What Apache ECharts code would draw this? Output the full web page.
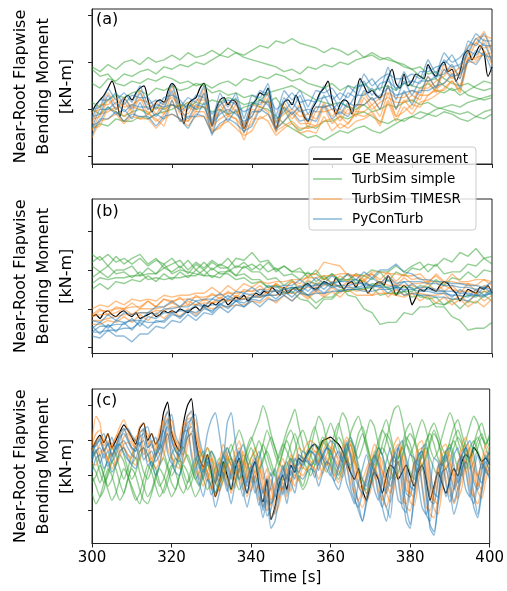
<!DOCTYPE html>
<html>
<head>
<meta charset="utf-8">
<script src="https://cdn.jsdelivr.net/npm/echarts@6/dist/echarts.min.js"></script>
<style>
html,body{margin:0;padding:0;background:#fff;}
#chart{width:507px;height:591px;}
</style>
</head>
<body>
<div id="chart"></div>
<script>
// ---------- time grids ----------
const timeFine = [300,301,302,303,304,305,306,307,308,309,
310,311,312,313,314,315,316,317,318,319,
320,321,322,323,324,325,326,327,328,329,
330,331,332,333,334,335,336,337,338,339,
340,341,342,343,344,345,346,347,348,349,
350,351,352,353,354,355,356,357,358,359,
360,361,362,363,364,365,366,367,368,369,
370,371,372,373,374,375,376,377,378,379,
380,381,382,383,384,385,386,387,388,389,
390,391,392,393,394,395,396,397,398,399,
400];
const timeCoarse = [300,302,304,306,308,310,312,314,316,318,
320,322,324,326,328,330,332,334,336,338,
340,342,344,346,348,350,352,354,356,358,
360,362,364,366,368,370,372,374,376,378,
380,382,384,386,388,390,392,394,396,398,
400];

const yTicks = [0,20,40,60];
const panelLabels = ['(a)','(b)','(c)'];
const legendNames = ['GE Measurement','TurbSim simple','TurbSim TIMESR','PyConTurb'];

// ---------- panel (a) ----------
const aMeasured = [19,22,24,26,29,32,27,17,24,26,
24,27,29,30,24,19,23,24,23,28,
31,29,22,14,22,24,25,29,31,24,
13,20,24,25,22,24,23,18,12,16,
22,24,27,26,29,20,12,18,23,24,
22,26,22,17,15,20,23,27,29,32,
24,18,22,24,23,18,26,33,30,27,
28,26,25,29,33,37,31,29,35,30,
32,35,34,33,39,36,34,38,40,36,
37,32,36,43,45,41,44,47,44,34,
38];
const aSimple1 = [38,36,39,37,40,41,39,42,40,41, 43,41,44,42,43,45,43,46,44,43, 45,47,46,49,48,50,48,47,46,44, 46,45,43,45,42,44,42,41,40,38, 37,38,35,36,33,31,30,31,29,28, 29];
const aSimple2 = [31,29,33,32,35,34,36,37,35,38, 37,39,38,40,39,41,43,42,44,42, 41,40,39,38,36,37,35,38,37,39, 38,40,39,41,42,43,41,42,40,39, 37,34,32,33,30,28,29,26,25,24, 25];
const aSimple3 = [37,34,35,31,30,32,31,33,32,34, 33,31,32,30,31,29,31,32,30,33, 32,34,33,35,34,32,33,31,30,29, 31,28,30,29,31,28,29,30,28,31, 30,29,31,28,27,29,26,28,30,32, 31];
const aSimple4 = [23,21,24,26,25,27,28,26,29,28, 30,28,29,31,30,27,28,26,27,25, 26,24,27,28,29,30,28,26,24,23, 22,23,21,20,22,19,20,22,21,23, 24,22,23,21,20,19,18,19,17,19, 20];
const aSimple5 = [12,14,13,16,15,15,17,16,18,19, 20,22,21,23,22,24,23,25,24,22, 23,21,20,17,14,12,10,8,9,7, 9,11,10,12,13,11,10,12,14,16, 17,19,18,20,21,22,21,23,24,25, 26];
const aSimple6 = [20,18,21,19,17,19,20,18,21,20, 22,21,23,20,21,19,20,18,19,21, 22,24,23,25,20,14,11,13,12,15, 15,17,16,18,19,17,15,14,16,15, 17,16,18,17,19,18,16,15,17,16, 18];
const aTimesr1 = [12,13,20,19,15,19,16,18,16,13, 24,15,15,19,19,11,12,17,16,7, 16,16,18,11,13,15,12,12,13,15, 16,12,14,18,17,19,14,24,17,19, 22,21,26,28,28,32,28,41,42,43, 44];
const aTimesr2 = [14,22,22,25,21,22,24,23,18,23, 25,22,18,24,24,15,19,23,19,14, 17,23,23,15,18,20,17,18,16,23, 17,20,18,22,22,25,20,30,20,27, 23,29,29,32,34,38,33,47,48,53, 45];
const aTimesr3 = [11,18,19,21,17,21,20,19,15,18, 22,20,15,21,21,13,16,18,16,12, 14,21,19,12,15,18,14,14,13,21, 14,17,14,19,19,22,17,27,17,24, 20,26,26,29,31,34,30,42,41,50, 40];
const aTimesr4 = [16,17,24,20,23,19,25,18,21,18, 27,18,21,19,27,11,22,17,22,10, 20,19,25,10,21,16,20,12,19,19, 20,15,20,17,25,20,23,25,23,23, 26,24,32,27,37,33,36,41,48,46, 47];
const aTimesr5 = [8,15,16,18,14,17,16,16,12,16, 18,16,13,17,17,10,13,15,12,9, 11,17,15,9,12,14,10,11,10,17, 11,14,12,15,16,18,13,23,15,21, 18,23,24,26,29,32,27,40,40,45, 39];
const aTimesr6 = [19,20,27,22,25,21,28,20,23,20, 30,20,23,21,29,13,24,19,24,12, 22,21,27,12,23,18,22,14,21,21, 22,17,22,19,27,22,25,27,25,25, 28,26,34,29,39,35,38,43,50,51, 50];
const aPycon1 = [13,15,21,18,20,16,23,16,18,16, 24,15,17,17,23,9,20,15,20,10, 19,19,24,11,21,18,21,15,21,21, 22,18,23,21,28,24,26,29,26,27, 28,27,34,29,37,34,35,40,45,43, 42];
const aPycon2 = [12,20,20,23,19,22,21,21,17,21, 22,20,16,22,21,14,18,20,18,15, 17,24,22,16,19,23,19,20,19,26, 20,23,21,26,26,29,24,34,24,32, 26,32,32,34,35,39,33,45,43,48, 40];
const aPycon3 = [17,18,26,20,25,20,27,20,22,21, 28,19,22,20,27,13,24,18,25,13, 23,22,29,14,25,20,26,18,24,25, 26,20,27,25,32,26,31,32,29,31, 32,31,38,33,41,38,39,44,50,47, 47];
const aPycon4 = [16,24,24,27,22,26,25,25,20,25, 26,24,20,26,25,18,22,24,22,19, 21,28,26,20,23,27,23,24,23,30, 24,27,25,30,30,33,28,38,28,36, 30,36,36,38,39,43,37,49,47,52, 44];
const aPycon5 = [20,21,29,24,27,23,30,22,24,22, 31,21,25,23,30,15,27,21,27,16, 26,25,31,17,28,24,28,21,28,27, 29,24,30,27,35,30,33,35,33,33, 35,33,41,35,44,40,42,46,52,49, 49];
const aPycon6 = [9,16,16,19,15,18,17,17,13,17, 18,16,12,18,17,10,14,16,14,11, 13,20,18,12,15,19,15,16,15,22, 16,19,17,22,22,25,20,30,20,28, 22,28,28,30,31,35,29,41,39,44, 36];

// ---------- panel (b) ----------
const bMeasured = [16,17,15,18,19,17,16,18,19,17,
16,18,15,16,17,18,16,17,19,18,
19,18,20,19,18,20,21,19,22,21,
23,22,24,25,22,24,26,25,27,24,
26,28,27,29,28,31,29,27,31,28,
30,31,29,32,33,31,30,32,34,33,
32,36,33,30,33,34,31,35,32,28,
31,33,34,32,37,33,27,30,32,30,
22,26,30,29,31,30,29,32,34,33,
30,28,24,27,30,29,28,31,30,32,
28];
const bSimple1 = [48,45,48,44,46,43,46,42,45,43, 46,41,45,40,44,40,43,41,46,45, 49,44,45,40,42,39,41,36,40,35, 38,35,38,33,37,35,39,34,39,37, 41,40,43,42,46,44,49,47,51,46, 47];
const bSimple2 = [44,47,42,47,43,46,48,43,46,41, 43,45,40,44,41,45,42,46,41,44, 40,43,39,41,37,38,35,39,34,37, 33,35,35,38,37,40,39,39,42,39, 42,44,39,43,38,39,39,43,42,46, 43];
const bSimple3 = [36,39,36,40,40,42,37,41,38,43, 38,40,39,38,37,37,36,40,37,42, 39,39,35,36,32,35,29,27,23,26, 26,30,29,31,30,33,32,31,27,29, 26,27,25,26,22,24,20,24,23,27, 24];
const bSimple4 = [30,33,30,34,33,35,34,37,34,38, 35,39,36,40,37,41,38,38,35,36, 33,34,31,32,30,31,30,34,33,33, 32,32,27,26,20,18,12,13,13,18, 17,21,21,23,22,25,25,27,26,29, 27];
const bSimple5 = [42,39,42,38,39,36,39,35,36,35, 36,36,37,37,40,36,39,39,42,41, 43,40,44,39,42,39,39,38,38,35, 38,34,35,35,34,31,34,30,31,31, 31,26,26,21,21,16,14,9,10,10, 13];
const bSimple6 = [33,36,35,36,36,37,37,38,38,41, 39,42,38,43,40,44,41,41,37,38, 35,35,31,32,28,29,25,24,20,25, 25,29,29,30,30,31,27,28,28,29, 29,32,31,35,32,36,35,39,36,40, 39];
const bTimesr1 = [20,22,21,24,22,25,24,25,24,27, 26,27,27,28,28,31,28,32,29,33, 31,34,33,34,34,35,35,36,36,37, 37,38,38,37,37,38,35,39,34,38, 35,36,33,38,34,34,33,33,32,35, 32];
const bTimesr2 = [16,17,17,18,20,17,20,20,20,21, 23,21,24,22,25,23,26,24,27,25, 28,26,29,29,29,30,30,31,31,32, 33,31,34,32,35,31,34,32,32,32, 32,30,33,29,32,30,29,29,28,29, 29];
const bTimesr3 = [12,12,14,13,16,13,17,14,18,15, 19,16,20,17,21,20,21,21,22,22, 24,23,26,23,27,24,28,25,29,26, 29,26,30,27,27,27,28,28,27,26, 28,24,27,23,26,22,25,21,24,21, 25];
const bTimesr4 = [16,19,19,20,20,23,20,24,21,25, 23,26,22,27,24,28,25,29,26,30, 29,30,30,33,30,34,33,37,38,44, 43,42,37,37,34,38,33,37,32,36, 33,33,34,34,29,32,28,33,29,32, 30];
const bTimesr5 = [14,14,15,16,17,17,18,18,19,19, 21,21,22,22,23,23,24,24,25,25, 26,26,27,27,28,28,29,26,30,27, 31,28,32,29,30,27,31,26,30,27, 28,28,27,27,28,24,27,23,28,24, 27];
const bTimesr6 = [17,20,17,21,20,21,21,24,21,25, 24,25,25,26,26,27,27,28,28,29, 29,32,28,33,30,34,31,35,32,36, 33,37,34,38,35,39,39,38,38,37, 37,38,34,37,33,38,34,34,35,35, 34];
const bPycon1 = [14,13,17,14,18,17,18,18,21,21, 24,21,25,24,25,25,28,25,29,28, 31,28,32,31,32,32,35,32,36,33, 37,34,38,35,39,36,40,40,43,39, 38,35,35,34,34,33,33,32,32,31, 34];
const bPycon2 = [8,11,11,12,12,15,11,16,15,18, 18,19,19,22,21,22,22,25,24,25, 26,27,27,30,27,31,28,32,29,33, 31,32,32,33,33,32,32,35,31,34, 30,31,31,30,29,29,28,28,27,31, 28];
const bPycon3 = [6,5,9,6,6,3,7,7,11,10, 14,13,17,14,18,17,21,18,22,21, 24,21,25,24,27,24,28,27,28,28, 29,29,30,30,29,29,30,30,31,27, 28,27,27,26,26,25,25,24,27,27, 28];
const bPycon4 = [10,13,10,14,13,14,14,18,17,20, 20,21,21,24,21,25,24,27,24,28, 27,30,29,29,30,31,31,32,32,33, 33,34,34,35,32,36,33,37,33,34, 34,34,33,33,32,32,31,31,30,31, 30];
const bPycon5 = [8,8,9,9,10,10,13,10,14,13, 17,16,19,16,20,19,22,21,24,21, 25,24,28,25,29,26,30,27,31,28, 32,29,30,30,31,31,32,28,31,30, 30,29,29,28,28,27,27,26,30,27, 30];
const bPycon6 = [11,7,12,8,13,9,14,13,13,14, 18,15,19,18,21,18,23,20,24,23, 26,26,27,27,31,28,32,29,33,30, 34,31,31,31,32,32,31,31,32,29, 33,30,30,29,29,26,30,27,27,26, 29];

// ---------- panel (c) ----------
const cMeasured = [35,40,43,39,44,36,40,45,49,46,
42,38,47,50,40,44,38,42,56,62,
45,38,34,50,60,64,42,30,25,32,
22,8,15,28,20,12,24,30,18,10,
22,28,14,5,18,-5,2,15,20,12,
26,22,30,28,32,36,38,35,40,41,
42,40,38,34,28,22,18,24,12,6,
15,22,18,10,20,26,24,18,22,26,
20,14,22,26,18,6,14,22,16,10,
18,24,20,28,32,30,36,33,28,30,
26];
const cSimple1 = [20,14,8,12,22,28,24,16,10,18, 26,30,22,14,8,12,20,26,30,24, 16,12,20,28,32,26,18,14,22,30, 34,28,20,24,32,38,30,22,26,36, 42,36,30,38,46,40,32,26,34,42, 46,40,30,24,32,42,48,40,30,26, 34,44,50,42,32,26,34,44,48,40, 30,26,36,46,52,44,34,30,38,46, 50,42,34,30,38,46,50,44,36,32, 40,48,52,44,36,30,38,46,50,42, 36];
const cSimple2 = [30,34,28,20,14,18,26,32,28,20, 14,8,4,12,22,28,24,16,10,16, 24,30,26,18,12,16,24,30,34,28, 20,16,24,32,36,30,22,18,26,34, 40,46,52,60,54,44,36,30,38,46, 52,58,48,38,30,36,46,54,50,40, 32,38,48,56,52,42,34,30,36,44, 52,48,38,32,40,50,58,60,52,40, 32,38,46,52,46,36,30,34,42,50, 56,50,40,34,40,48,54,50,42,38, 44];
const cSimple3 = [10,4,8,16,24,20,12,6,10,18, 24,20,12,6,4,10,18,24,20,14, 8,12,20,26,22,14,8,12,20,26, 22,16,12,18,26,30,24,18,22,30, 36,30,24,28,36,42,36,28,24,30, 38,44,38,30,24,20,26,34,40,36, 28,22,18,24,32,38,30,22,14,12, 20,30,36,32,24,18,22,30,36,30, 22,18,24,32,36,30,24,20,26,34, 38,32,24,20,28,36,40,34,28,24, 30];
const cSimple4 = [26,22,16,22,30,36,32,24,18,24, 32,36,30,22,18,24,32,38,34,26, 20,24,32,36,30,24,18,22,30,36, 30,22,16,20,28,34,40,46,40,32, 26,22,30,38,32,24,20,26,34,40, 34,26,20,14,22,32,38,34,26,22, 28,36,42,38,30,24,30,38,44,38, 30,24,30,38,44,40,32,26,32,40, 44,40,32,26,30,38,44,40,32,28, 34,42,46,40,32,28,34,40,44,38, 42];
const cSimple5 = [16,20,26,20,12,6,10,18,24,20, 12,6,10,18,26,22,14,8,12,20, 26,22,14,10,16,24,30,26,18,12, 16,24,30,26,18,12,16,24,32,28, 20,16,22,30,34,28,20,14,18,26, 30,24,18,12,16,24,30,36,42,38, 30,24,20,26,34,40,36,26,18,10, 14,22,30,36,32,24,18,22,30,38, 34,26,20,24,32,40,46,40,30,24, 28,36,42,38,30,24,28,36,42,36, 30];
const cSimple6 = [36,30,22,16,20,28,34,38,32,24, 18,22,30,36,32,26,20,14,18,26, 32,36,30,22,16,20,28,34,30,22, 14,10,16,24,30,26,18,12,16,24, 30,34,40,34,26,20,24,32,38,34, 28,34,42,46,40,32,26,30,38,44, 50,44,36,30,36,44,50,54,46,36, 28,32,40,46,42,34,28,30,36,42, 38,30,26,32,40,44,38,30,26,30, 36,40,34,28,24,30,38,42,36,30, 34];
const cTimesr1 = [34,40,42,37,40,35,38,44,47,42, 38,36,45,46,38,40,34,38,48,53, 42,36,34,44,52,53,40,30,24,32, 28,18,24,34,28,20,30,36,26,18, 26,32,22,12,20,6,10,20,26,18, 28,24,32,30,34,36,34,28,34,38, 36,30,26,32,40,34,22,16,12,18, 26,34,30,18,12,20,34,38,26,12, 10,22,34,36,22,8,6,18,32,34, 24,14,20,34,38,30,18,14,24,34, 30];
const cTimesr2 = [27,26,33,36,29,33,26,31,38,39, 35,30,29,37,40,30,33,27,31,41, 46,35,29,27,37,45,46,33,23,17, 25,21,11,17,27,21,13,23,29,19, 11,19,25,15,5,13,-2,3,13,19, 11,21,17,25,23,27,29,27,21,27, 31,29,23,19,25,33,27,15,9,5, 11,19,27,23,11,5,13,27,31,19, 5,3,15,27,29,15,1,-2,11,25, 27,17,7,13,27,31,23,11,7,17, 27];
const cTimesr3 = [37,40,31,35,28,36,42,45,36,32, 30,42,44,32,35,28,35,46,52,36, 30,28,41,50,48,34,24,18,26,22, 12,18,28,22,14,24,30,20,12,20, 26,16,6,14,0,4,14,20,12,22, 18,26,24,28,30,28,22,28,32,30, 24,20,26,34,28,16,10,6,12,20, 28,24,12,6,14,28,32,20,6,4, 16,28,30,16,2,0,12,26,28,18, 8,14,28,32,24,12,8,18,28,24, 22];
const cTimesr4 = [38,44,46,40,44,38,42,48,52,46, 42,40,48,50,42,44,38,42,52,56, 46,40,38,48,54,56,44,36,30,36, 32,24,28,38,32,26,34,40,30,24, 30,36,26,18,24,12,16,24,30,22, 32,28,36,34,38,40,38,32,38,42, 40,34,30,36,42,38,28,22,18,24, 30,38,34,22,18,26,38,42,30,18, 16,26,38,40,26,14,12,22,36,38, 28,20,24,38,42,34,24,20,28,38, 34];
const cTimesr5 = [32,33,38,40,34,38,32,36,42,44, 40,36,34,42,44,36,38,32,36,46, 52,40,34,32,42,50,52,38,28,22, 30,26,16,22,32,26,18,28,34,24, 16,24,30,20,10,18,4,8,18,24, 16,26,22,30,28,32,34,32,26,32, 36,34,28,24,30,38,32,20,14,10, 16,24,32,28,16,10,18,32,36,24, 10,8,20,32,34,20,6,4,16,30, 32,22,12,18,32,36,28,16,12,22, 32];
const cTimesr6 = [40,54,50,34,30,24,28,34,36,32, 28,26,34,36,28,30,24,28,38,44, 32,26,24,34,42,44,30,20,14,22, 18,8,14,24,18,10,20,26,16,8, 16,22,12,2,10,-4,0,10,16,8, 18,14,22,20,24,26,24,18,24,28, 26,20,16,22,30,24,12,6,2,8, 16,24,20,8,2,10,24,28,16,2, 0,12,24,26,12,-2,-4,8,22,24, 14,4,10,24,28,20,8,4,14,24, 20];
const cPycon1 = [32,38,40,34,38,32,36,42,44,40, 36,34,42,44,36,38,32,36,46,52, 40,34,32,42,50,52,38,28,22,30, 26,16,22,32,26,18,28,34,24,16, 24,30,20,10,18,4,8,18,24,16, 26,22,30,28,32,34,32,26,32,36, 34,28,24,30,38,32,20,14,10,16, 24,32,28,16,10,18,32,36,24,10, 8,20,32,34,20,6,4,16,30,32, 22,12,18,32,36,28,16,12,22,32, 28];
const cPycon2 = [31,39,41,34,39,31,36,44,47,41, 36,34,44,47,36,39,31,36,49,57, 41,34,31,44,54,57,39,26,18,28, 23,10,18,31,23,13,26,34,21,10, 21,28,15,2,13,-5,0,13,21,10, 23,18,28,26,31,34,31,23,31,36, 34,26,21,28,39,31,15,4,-6,6, 21,31,26,10,2,-4,20,36,21,2, -8,8,31,34,15,-10,-14,4,28,31, 18,5,13,31,36,26,10,-2,12,31, 26];
const cPycon3 = [30,35,27,33,25,31,37,38,33,29, 27,37,39,29,32,25,31,41,46,33, 27,25,37,45,46,31,21,15,24,19, 9,16,27,20,11,22,29,17,8,18, 25,14,3,12,-3,1,12,19,9,21, 16,25,22,27,29,26,19,27,31,28, 21,17,25,34,26,13,6,2,10,19, 27,22,9,2,12,27,31,17,2,-1, 14,27,29,13,-2,-6,10,25,27,15, 5,12,27,31,22,9,4,16,27,22, 20];
const cPycon4 = [36,37,41,44,37,42,35,40,46,47, 43,40,37,46,48,39,42,35,40,50, 55,43,38,36,46,53,55,41,32,26, 34,30,20,26,36,30,22,32,38,28, 20,28,34,24,14,22,8,12,22,28, 20,30,26,34,32,36,38,36,30,36, 40,38,32,28,34,42,36,24,18,14, 20,28,36,32,20,14,22,36,40,28, 14,12,24,36,38,24,10,8,20,34, 36,26,16,22,36,40,32,20,16,26, 36];
const cPycon5 = [22,30,32,24,28,22,26,34,36,30, 26,24,34,36,26,28,20,26,38,44, 30,22,20,32,42,44,28,16,8,18, 14,2,10,22,14,4,16,24,12,2, 12,20,8,-4,6,-10,-6,6,14,4, 16,10,20,18,22,24,22,14,22,28, 26,16,12,20,30,22,8,0,-6,4, 14,24,18,2,-6,6,24,28,12,-6, -10,8,24,26,8,-8,-12,4,22,24, 12,-2,6,24,28,16,2,-4,10,24, 18];
const cPycon6 = [28,34,36,30,34,28,32,38,40,36, 32,30,38,40,32,34,28,32,42,48, 36,30,28,38,46,48,34,24,30,44, 52,56,44,30,50,56,40,28,20,14, 20,10,16,0,8,14,24,12,26,18, 30,24,32,30,28,26,28,36,30,24, 20,30,34,28,16,10,4,16,24,32, 24,12,6,18,28,36,20,6,4,20, 32,30,16,2,-2,12,30,28,18,8, 18,32,36,24,12,8,22,32,24,28, 22];

// ---------- build ----------
const FONT = 'DejaVu Sans';
const COL_MEAS = '#000000';
const COL_SIMPLE = 'rgba(44,160,44,0.5)';
const COL_TIMESR = 'rgba(255,127,14,0.5)';
const COL_PYCON = 'rgba(31,119,180,0.5)';

const panels = [
  {measured: aMeasured, tm: timeFine, simple: [aSimple1,aSimple2,aSimple3,aSimple4,aSimple5,aSimple6], ts: timeCoarse,
   timesr: [aTimesr1,aTimesr2,aTimesr3,aTimesr4,aTimesr5,aTimesr6], pycon: [aPycon1,aPycon2,aPycon3,aPycon4,aPycon5,aPycon6], tc: timeCoarse,
   ymin: -3.1, ymax: 62.5, top: 9, height: 155, labelTop: 12, mSmooth: 0.3, cSmooth: 0.1},
  {measured: bMeasured, tm: timeFine, simple: [bSimple1,bSimple2,bSimple3,bSimple4,bSimple5,bSimple6], ts: timeCoarse,
   timesr: [bTimesr1,bTimesr2,bTimesr3,bTimesr4,bTimesr5,bTimesr6], pycon: [bPycon1,bPycon2,bPycon3,bPycon4,bPycon5,bPycon6], tc: timeCoarse,
   ymin: -3.0, ymax: 76.5, top: 199, height: 154.5, labelTop: 204, mSmooth: 0.15, cSmooth: 0},
  {measured: cMeasured, tm: timeFine, simple: [cSimple1,cSimple2,cSimple3,cSimple4,cSimple5,cSimple6], ts: timeFine,
   timesr: [cTimesr1,cTimesr2,cTimesr3,cTimesr4,cTimesr5,cTimesr6], pycon: [cPycon1,cPycon2,cPycon3,cPycon4,cPycon5,cPycon6], tc: timeFine,
   ymin: -18.7, ymax: 69.5, top: 389, height: 154.5, labelTop: 393, mSmooth: 0.2, cSmooth: 0.2}
];

function pairs(times, vals){ return vals.map((v,i)=>[times[i], v]); }

const grids = [], xAxes = [], yAxes = [], series = [], graphics = [];
panels.forEach((p, i) => {
  grids.push({left: 92, width: 400, top: p.top, height: p.height, show: true, borderColor: '#222', borderWidth: 1, backgroundColor: 'transparent'});
  xAxes.push({
    type: 'value', gridIndex: i, min: 300, max: 400, interval: 20,
    axisLine: {show: true, onZero: false, lineStyle: {color: '#222', width: 1}},
    axisTick: {show: true, length: 4, lineStyle: {color: '#222'}},
    axisLabel: {show: i === 2, fontSize: 15, fontFamily: FONT, color: '#000', margin: 7},
    splitLine: {show: false},
    name: i === 2 ? 'Time [s]' : '', nameLocation: 'middle', nameGap: 27,
    nameTextStyle: {fontSize: 15, fontFamily: FONT, color: '#000'}
  });
  yAxes.push({
    type: 'value', gridIndex: i, min: p.ymin, max: p.ymax,
    axisLine: {show: true, onZero: false, lineStyle: {color: '#222', width: 1}},
    axisTick: {show: true, length: 4, customValues: yTicks, lineStyle: {color: '#222'}},
    axisLabel: {show: false},
    splitLine: {show: false},
    name: 'Near-Root Flapwise\nBending Moment\n[kN-m]', nameLocation: 'middle', nameRotate: 90, nameGap: 14,
    nameTextStyle: {fontSize: 16, lineHeight: 23, fontFamily: FONT, color: '#000', align: 'center'}
  });
  const base = {type: 'line', xAxisIndex: i, yAxisIndex: i, symbol: 'none', showSymbol: false, silent: true, animation: false};
  series.push(Object.assign({}, base, {name: legendNames[0], data: pairs(p.tm, p.measured), smooth: p.mSmooth,
    itemStyle: {color: COL_MEAS}, lineStyle: {color: COL_MEAS, width: 1.2}}));
  p.simple.forEach(v => series.push(Object.assign({}, base, {name: legendNames[1], data: pairs(p.ts, v), smooth: i === 2 ? 0.2 : 0,
    itemStyle: {color: COL_SIMPLE}, lineStyle: {color: COL_SIMPLE, width: 1.4}})));
  p.timesr.forEach(v => series.push(Object.assign({}, base, {name: legendNames[2], data: pairs(p.tc, v), smooth: p.cSmooth,
    itemStyle: {color: COL_TIMESR}, lineStyle: {color: COL_TIMESR, width: 1.4}})));
  p.pycon.forEach(v => series.push(Object.assign({}, base, {name: legendNames[3], data: pairs(p.tc, v), smooth: p.cSmooth,
    itemStyle: {color: COL_PYCON}, lineStyle: {color: COL_PYCON, width: 1.4}})));
  graphics.push({type: 'text', left: 96, top: p.labelTop, z: 10,
    style: {text: panelLabels[i], fontSize: 16, fontFamily: FONT, fill: '#000'}});
});

const chart = echarts.init(document.getElementById('chart'), null, {renderer: 'canvas'});
chart.setOption({
  animation: false,
  backgroundColor: '#ffffff',
  grid: grids, xAxis: xAxes, yAxis: yAxes, series: series, graphic: graphics,
  legend: {
    data: legendNames.map(n => ({name: n, icon: 'rect'})),
    orient: 'vertical', left: 309, top: 147,
    itemWidth: 29, itemHeight: 1.6, itemGap: 0,
    padding: [2, 8, 1, 4],
    backgroundColor: 'rgba(255,255,255,0.8)', borderColor: '#cccccc', borderWidth: 1, borderRadius: 3,
    textStyle: {fontSize: 13.5, fontFamily: FONT, color: '#000', lineHeight: 20, padding: [0, 0, 0, 5]},
    selectedMode: false, z: 20
  }
});
</script>
</body>
</html>
